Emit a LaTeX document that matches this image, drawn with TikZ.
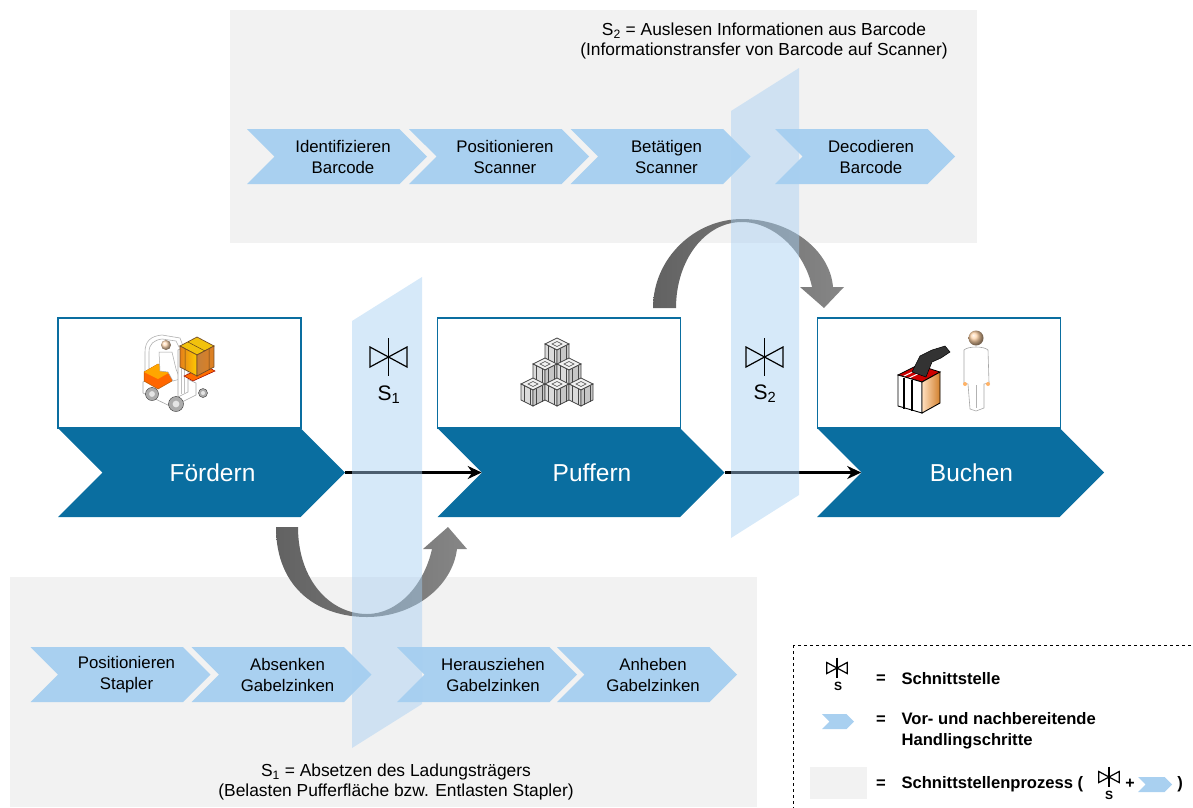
\documentclass[tikz,border=0pt]{standalone}
\usepackage{fontspec}
\setmainfont{Liberation Sans}
\usetikzlibrary{shapes.symbols,positioning,arrows.meta}
\definecolor{prozessblau}{RGB}{10,110,160}
\definecolor{schrittblau}{RGB}{169,208,240}
\definecolor{ebenenblau}{RGB}{166,207,242}
\definecolor{panelgrau}{RGB}{242,242,242}
\definecolor{pfeildunkel}{RGB}{98,98,98}
\definecolor{pfeilhell}{RGB}{134,134,134}
\definecolor{kante}{RGB}{70,70,70}

\begin{document}
\begin{tikzpicture}[
						x=1pt,
						y=-1pt,
						>={Stealth[length=14pt,width=13pt]},
						prozess/.style={signal, signal to=east, signal from=west, fill=prozessblau, minimum width=287pt, minimum height=89pt, inner sep=0pt},
						prozesstext/.style={text=white, font=\fontsize{24.5}{29}\selectfont},
						iconbox/.style={draw=prozessblau, line width=1.3pt, fill=white, minimum width=243pt, minimum height=110pt, inner sep=0pt},
						schritt/.style={signal, signal to=east, signal from=west, fill=schrittblau, minimum width=180pt, minimum height=55pt, inner sep=0pt},
						schritttext/.style={align=center, inner sep=0pt, font=\fontsize{16.8}{21}\selectfont},
						ebene/.style={fill=ebenenblau, fill opacity=0.46},
						bogen/.style={left color=pfeildunkel, right color=pfeilhell},
						notiz/.style={align=center, font=\fontsize{17.4}{20}\selectfont},
						legtext/.style={anchor=west, align=left, font=\bfseries\fontsize{16.6}{21}\selectfont},
						symbol/.style={font=\fontsize{21}{25}\selectfont},
						ventil/.pic={
							\draw[line width=1.2pt] (-18.5,-10) -- (18.5,10) -- (18.5,-10) -- (-18.5,10) -- cycle;
							\draw[line width=1.2pt] (0,-19) -- (0,19);
						},
						kiste/.pic={
							\filldraw[draw=kante, fill=gray!12, line width=0.7pt] (-12,-8) -- (0,-14) -- (12,-8) -- (0,-2) -- cycle;
							\filldraw[draw=kante, fill=gray!28, line width=0.7pt] (-12,-8) -- (0,-2) -- (0,14) -- (-12,8) -- cycle;
							\filldraw[draw=kante, fill=gray!45, line width=0.7pt] (0,-2) -- (12,-8) -- (12,8) -- (0,14) -- cycle;
							\draw[kante, line width=0.5pt] (-9,-6.5) -- (-9,9.5) (-3,-3.5) -- (-3,12.5) (3,-3.5) -- (3,12.5) (9,-6.5) -- (9,9.5);
							\draw[kante, line width=0.5pt] (-5,-8) -- (0,-10.5) -- (5,-8) -- (0,-5.5) -- cycle;
						}
					]
	\useasboundingbox (0,0) rectangle (1193,807);

	% Hintergrundflaechen der Schnittstellenprozesse
	\fill[panelgrau] (230,10) rectangle (977,243);
	\fill[panelgrau] (10,577) rectangle (757,807);

	% Hauptprozess
	\node[iconbox] (fb) at (179.5,373) {};
	\node[iconbox] (pb) at (559,373) {};
	\node[iconbox] (bb) at (939,373) {};
	\node[prozess] (f) at (201.5,472.5) {};
	\node[prozess] (p) at (581,472.5) {};
	\node[prozess] (b) at (960.5,472.5) {};
	\node[prozesstext] (ft) at ([xshift=11pt]f.center) {Fördern};
	\node[prozesstext] (pt) at ([xshift=11pt]p.center) {Puffern};
	\node[prozesstext] (bt) at ([xshift=11pt]b.center) {Buchen};

	% Handlingschritte S2
	\node[schritt] (t1) at (337,156.5) {};
	\node[schritt] (t2) at (499,156.5) {};
	\node[schritt] (t3) at (660.5,156.5) {};
	\node[schritt] (t4) at (865,156.5) {};
	\node[schritttext] (t1t) at ([xshift=6pt]t1.center) {Identifizieren\\Barcode};
	\node[schritttext] (t2t) at ([xshift=6pt]t2.center) {Positionieren\\Scanner};
	\node[schritttext] (t3t) at ([xshift=6pt]t3.center) {Betätigen\\Scanner};
	\node[schritttext] (t4t) at ([xshift=6pt]t4.center) {Decodieren\\Barcode};

	% Handlingschritte S1
	\node[schritt] (u1) at (120.5,674.5) {};
	\node[schritt] (u2) at (281.5,674.5) {};
	\node[schritt] (u3) at (487,674.5) {};
	\node[schritt] (u4) at (647,674.5) {};
	\node[schritttext] (u1t) at ([xshift=6pt]u1.center) {Positionieren\\Stapler};
	\node[schritttext] (u2t) at ([xshift=6pt]u2.center) {Absenken\\Gabelzinken};
	\node[schritttext] (u3t) at ([xshift=6pt]u3.center) {Herausziehen\\Gabelzinken};
	\node[schritttext] (u4t) at ([xshift=6pt]u4.center) {Anheben\\Gabelzinken};

	% Stapler
	\filldraw[draw=gray!60, fill=white, line width=0.6pt] (145,390) -- (145,352) .. controls (145,341) and (151,336) .. (162,335) -- (180,338) -- (183,346) -- (179,347) -- (176,341) -- (162,339) .. controls (154,340) and (149,344) .. (149,352) -- (149,390) -- cycle;
	\filldraw[draw=gray!70, fill=white, line width=0.6pt] (143,382) -- (168,370) -- (196,383) -- (196,395) -- (172,407) -- (143,393) -- cycle;
	\filldraw[draw=orange!70!black, fill=orange!80!red, line width=0.5pt] (144,372) -- (158,364) -- (172,371) -- (172,381) -- (158,389) -- (144,381) -- cycle;
	\fill[orange!70!yellow] (144,372) -- (158,364) -- (172,371) -- (158,379) -- cycle;
	\shade[ball color=orange!30] (166,345) circle (5);
	\filldraw[draw=gray!70, fill=white, line width=0.5pt] (159,352) -- (172,352) -- (176,369) -- (180,379) -- (173,381) -- (168,372) -- (160,371) -- cycle;
	\filldraw[draw=gray!70, fill=white, line width=0.6pt] (178,350) -- (188,345) -- (188,392) -- (178,397) -- cycle;
	\draw[gray!50, line width=0.5pt] (181,352) -- (181,394) (184,350) -- (184,393);
	\filldraw[draw=red!60!black, fill=orange!85!red, line width=0.5pt] (184,376) -- (206,366) -- (215,371) -- (193,381) -- cycle;
	\filldraw[draw=brown!60!black, fill=orange!35!yellow!80!brown, line width=0.7pt] (180,346) -- (197,337) -- (214,346) -- (197,355) -- cycle;
	\path[draw=brown!60!black, left color=orange!60!brown, right color=orange!40!yellow, line width=0.7pt] (180,346) -- (197,355) -- (197,376) -- (180,367) -- cycle;
	\path[draw=brown!60!black, left color=brown!90!orange, right color=orange!50!brown, line width=0.7pt] (197,355) -- (214,346) -- (214,367) -- (197,376) -- cycle;
	\draw[brown!50!black, line width=0.5pt] (185,349) -- (185,370) (209,349) -- (209,370) (188,342) -- (205,351);
	\foreach \wx/\wy/\wr in {152/394/6.5, 176/404/7.5, 203/393/4.5} {
		\filldraw[draw=gray!40!black, fill=gray!65] (\wx,\wy) circle (\wr);
		\fill[gray!20] (\wx,\wy) circle (\wr*0.45);
	}

	% Kistenstapel
	\foreach \kx/\ky in {557/352, 545/372, 569/372, 533/392, 557/392, 581/392}
		\pic at (\kx,\ky) {kiste};

	% Scanner und Mitarbeiter
	\filldraw[draw=black, fill=red!80!black, line width=0.8pt] (898,375) -- (918,365) -- (940,372) -- (922,382) -- cycle;
	\draw[white, line width=1pt] (902,377) -- (921,368) (907,379) -- (926,370);
	\filldraw[draw=black, fill=white, line width=0.9pt] (898,375) -- (922,382) -- (922,413) -- (898,406) -- cycle;
	\draw[black, line width=1.6pt] (904,378) -- (904,409) (912,380) -- (912,411);
	\path[left color=orange!25, right color=brown!70!orange, draw=black, line width=0.9pt] (922,382) -- (940,372) -- (940,403) -- (922,413) -- cycle;
	\filldraw[draw=black, fill=black!80, line width=0.5pt] (912,372) -- (920,356) -- (932,350) -- (945,346) -- (950,352) -- (941,358) -- (932,362) -- (926,377) -- cycle;
	\shade[ball color=orange!35] (976,338) circle (7.5);
	\filldraw[draw=gray!70, fill=white, line width=0.6pt] (964,350) .. controls (968,346) and (984,346) .. (988,350) -- (989,383) -- (984,384) -- (984,408) -- (976,411) -- (970,409) -- (968,384) -- (964,383) -- cycle;
	\draw[gray!60, line width=0.5pt] (976,385) -- (976,408);
	\fill[orange!60] (965,384) circle (2) (988,384) circle (2);

	% Bogenpfeile
	\path[bogen] (276,527) .. controls (276,590) and (320,617) .. (367,617)
		.. controls (412,617) and (452,588) .. (457,549) -- (467,549) -- (448,527) -- (423,549) -- (432,549)
		.. controls (424,585) and (398,614) .. (367,614)
		.. controls (330,614) and (298,580) .. (298,527) -- cycle;
	\path[bogen] (653,308) .. controls (653,258) and (695,219) .. (742,219)
		.. controls (790,219) and (830,250) .. (833,287) -- (844,287) -- (824,308) -- (800,287) -- (812,287)
		.. controls (805,253) and (775,222) .. (742,222)
		.. controls (705,222) and (676,260) .. (676,308) -- cycle;

	% Materialfluss
	\draw[->, line width=2.6pt] (f.east) -- (p.west);
	\draw[->, line width=2.6pt] (p.east) -- (b.west);

	% Schnittstellenebenen
	\fill[ebene] (352,321) -- (422,277) -- (422,704) -- (352,748) -- cycle;
	\fill[ebene] (731,111) -- (799,68) -- (799,495) -- (731,538) -- cycle;
	\pic at (388.5,357) {ventil};
	\pic at (764.5,357) {ventil};
	\node[symbol] (s1) at (389,395) {S\textsubscript{1}};
	\node[symbol] (s2) at (765,394) {S\textsubscript{2}};

	% Erlaeuterungen
	\node[notiz] (n2) at (764,41) {S\textsubscript{2} = Auslesen Informationen aus Barcode\\(Informationstransfer von Barcode auf Scanner)};
	\node[notiz] (n1) at (396,782) {S\textsubscript{1} = Absetzen des Ladungsträgers\\(Belasten Pufferfläche bzw. Entlasten Stapler)};

	% Legende
	\draw[dashed, line width=0.8pt] (793,645) rectangle (1215,830);
	\pic[scale=0.55] at (837,668) {ventil};
	\node[font=\bfseries\fontsize{12}{14}\selectfont] (ls) at (838,686) {S};
	\node[legtext] (l1) at (898,679) {Schnittstelle};
	\node[signal, signal to=east, signal from=west, fill=schrittblau, minimum width=32pt, minimum height=15pt, inner sep=0pt] (lc) at (838,721.5) {};
	\node[legtext] (l2) at (898,731) {Vor- und nachbereitende\\Handlingschritte};
	\fill[panelgrau] (810,767) rectangle (867,799);
	\node[legtext] (l3) at (898,784) {Schnittstellenprozess (};
	\pic[scale=0.55] at (1109,777) {ventil};
	\node[font=\bfseries\fontsize{12}{14}\selectfont] (ls2) at (1109,795) {S};
	\node[font=\bfseries\fontsize{16}{19}\selectfont] (lp) at (1130,784) {+};
	\node[signal, signal to=east, signal from=west, fill=schrittblau, minimum width=34pt, minimum height=15pt, inner sep=0pt] (lc2) at (1155,784.5) {};
	\node[font=\bfseries\fontsize{16.6}{19}\selectfont] (lk) at (1180,784) {)};
	\foreach \ly in {679,720,784}
		\node[font=\bfseries\fontsize{16.6}{19}\selectfont] at (881,\ly) {=};
\end{tikzpicture}
\end{document}
